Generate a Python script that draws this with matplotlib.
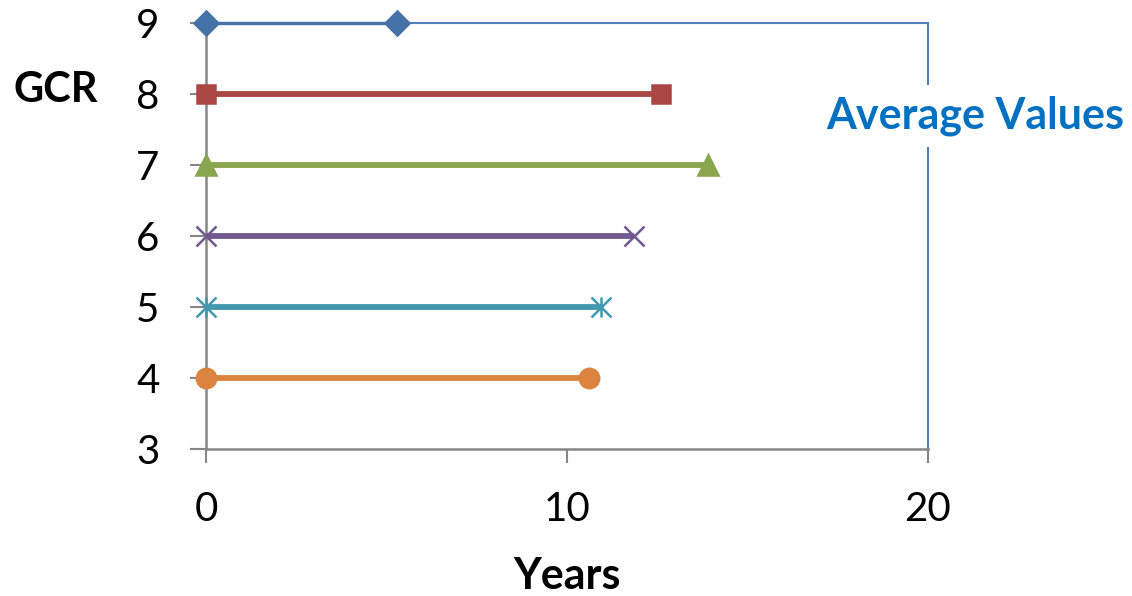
import matplotlib
matplotlib.use("Agg")
import matplotlib.pyplot as plt

plt.rcParams['font.family'] = ['Lato', 'DejaVu Sans']

# GCR level of each series and its average years (start at 0)
gcr_levels = [9, 8, 7, 6, 5, 4]
years_start = [0, 0, 0, 0, 0, 0]
years_end = [5.3, 12.6, 13.9, 11.85, 10.95, 10.6]

x_ticks = [0, 10, 20]
y_ticks = [3, 4, 5, 6, 7, 8, 9]

colors = ['#4572A7', '#AA4643', '#89A54E', '#71588F', '#4198AF', '#DB843D']
markers = ['D', 's', '^', 'x', 'x', 'o']
FRAME = '#4F81BD'
AXIS_GREY = '#868686'

fig = plt.figure(figsize=(11.32, 5.96), dpi=100)
ax = fig.add_axes([206 / 1132, 1 - 449 / 596, 722 / 1132, 426 / 596])

for i, y in enumerate(gcr_levels):
    xs = [years_start[i], years_end[i]]
    ys = [y, y]
    lw = 2.4 if i == 0 else 4.2
    mk = markers[i]
    ms = {'D': 12, 's': 13, '^': 14, 'x': 15, 'o': 14}[mk]
    ax.plot(xs, ys, color=colors[i], lw=lw, marker=mk, ms=ms,
            mew=1.8, clip_on=False, zorder=4, solid_capstyle='butt')
    if i == 4:
        # Excel style star marker: x with a vertical stroke
        ax.plot(xs, ys, color=colors[i], lw=0, marker='|', ms=15,
                mew=1.8, clip_on=False, zorder=4)

ax.set_xlim(0, 20)
ax.set_ylim(3, 9)
ax.set_xticks(x_ticks)
ax.set_yticks(y_ticks)

for side in ['top', 'right']:
    ax.spines[side].set_color(FRAME)
    ax.spines[side].set_linewidth(1.5)
for side in ['left', 'bottom']:
    ax.spines[side].set_color(AXIS_GREY)
    ax.spines[side].set_linewidth(1.8)

ax.tick_params(axis='y', direction='out', length=11.5, width=1.5,
               color=AXIS_GREY, labelsize=29, pad=22)
ax.tick_params(axis='x', direction='out', length=10, width=1.5,
               color=AXIS_GREY, labelsize=29, pad=20)

ax.text(975 / 1132, 1 - 116 / 596, 'Average Values', transform=fig.transFigure,
        ha='center', va='center', fontsize=31, fontweight='bold',
        color='#0070C0', zorder=10,
        bbox=dict(facecolor='white', edgecolor='none', pad=8))

fig.text(56 / 1132, 1 - 90 / 596, 'GCR', ha='center', va='center',
         fontsize=30, fontweight='bold')
fig.text(567 / 1132, 1 - 576 / 596, 'Years', ha='center', va='center',
         fontsize=31, fontweight='bold')

fig.savefig('out.png', dpi=100)
